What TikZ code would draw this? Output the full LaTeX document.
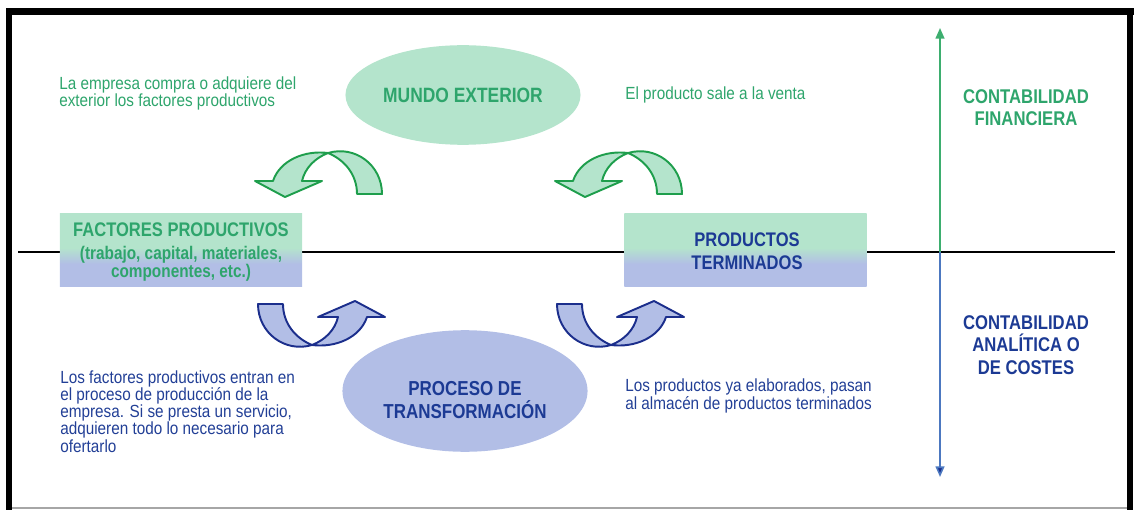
\documentclass[tikz,border=0pt]{standalone}
\usepackage{fontspec}
\setmainfont{Liberation Sans}
\newfontfamily\condb[FakeStretch=0.84]{Liberation Sans}
\newfontfamily\condr[FakeStretch=0.87]{Liberation Sans}
\usetikzlibrary{shapes.geometric,arrows.meta}
\definecolor{boxgreen}{HTML}{B4E4CC}
\definecolor{boxblue}{HTML}{B2BEE6}
\definecolor{greentext}{HTML}{2EA56C}
\definecolor{bluetitle}{HTML}{1C3A94}
\definecolor{bluesmall}{HTML}{223F96}
\definecolor{arrowgreen}{HTML}{1E9E4C}
\definecolor{arrowblue}{HTML}{1B2E8C}
\definecolor{axisgreen}{HTML}{3DAE6F}
\definecolor{axisblue}{HTML}{4C78C0}
\pgfdeclareverticalshading{boxshade}{100bp}{color(0bp)=(boxblue); color(40.5bp)=(boxblue); color(51.5bp)=(boxgreen); color(100bp)=(boxgreen)}
\tikzset{
  uturn/.pic={
    \filldraw[pic actions] (0,0) .. controls (27,-8) and (54,12) .. (54,41) -- (29,41) .. controls (29,22) and (17,7) .. cycle;
    \filldraw[pic actions] (0,0) .. controls (-23,-3) and (-48,7) .. (-55,28) -- (-73,28) -- (-43,44) -- (-6,28) -- (-26,28) .. controls (-23,15) and (-13,5) .. cycle;
  },
  title/.style={font=\condb\bfseries\fontsize{11.2}{12.5}\selectfont, inner sep=0, align=center},
  small/.style={font=\condr\fontsize{10}{9.8}\selectfont, inner sep=0, align=left},
  pbox/.style={shading=boxshade, minimum width=137.8pt, minimum height=41.95pt, inner sep=0},
  greenarrow/.style={fill=boxgreen, draw=arrowgreen, line width=1.1pt, line join=round},
  bluearrow/.style={fill=boxblue, draw=arrowblue, line width=1.1pt, line join=round},
}
\begin{document}
\begin{tikzpicture}[x=0.02cm,y=-0.02cm]
\useasboundingbox (0,0) rectangle (1136,510);
% frame
\fill[black] (6,8) rectangle (1134,15);
\fill[black] (6,8) rectangle (12,510);
\fill[black] (1127,8) rectangle (1133,510);
\draw[gray!70, line width=0.6pt] (12,508) -- (1127,508);
% horizontal divider
\coordinate (hl) at (18,252);
\coordinate (hr) at (1115,252);
\draw[black, line width=1.1pt] (hl) -- (hr);
% vertical axis
\coordinate (axmid) at (940,252);
\coordinate (axtop) at (940,28);
\coordinate (axbot) at (940,477);
\draw[axisgreen, line width=0.9pt, -{Triangle[width=5pt,length=6pt]}] (axmid) -- (axtop);
\draw[axisblue, line width=0.9pt, -{Triangle[width=5pt,length=6pt,fill=arrowblue]}] (axmid) -- (axbot);
% ellipses
\node[ellipse, fill=boxgreen, minimum width=133.8pt, minimum height=56.7pt, inner sep=0] (mundo) at (463,95) {};
\node[title, text=greentext, font=\condb\bfseries\fontsize{11.8}{13}\selectfont] (mundot) at (463,95) {MUNDO EXTERIOR};
\node[ellipse, fill=boxblue, minimum width=139.5pt, minimum height=69.2pt, inner sep=0] (proceso) at (465,391) {};
\node[title, text=bluetitle, font=\condb\bfseries\fontsize{11.5}{13}\selectfont] (procesot) at (465,400) {PROCESO DE\\TRANSFORMACIÓN};
% boxes
\node[pbox] (fact) at (181,250) {};
\node[title, text=greentext] (fact1) at (181,230) {FACTORES PRODUCTIVOS};
\node[title, text=greentext, font=\condb\bfseries\fontsize{10.4}{10.5}\selectfont] (fact2) at (181,264) {(trabajo, capital, materiales,\\componentes, etc.)};
\node[pbox] (prod) at (745.5,250) {};
\node[title, text=bluetitle, font=\condb\bfseries\fontsize{11.2}{13}\selectfont] (prodt) at (747,251) {PRODUCTOS\\TERMINADOS};
% curved arrows
\pic[greenarrow] at (328,153) {uturn};
\pic[greenarrow] at (628,153) {uturn};
\pic[bluearrow, rotate=180] at (312,345) {uturn};
\pic[bluearrow, rotate=180] at (611,345) {uturn};
% side texts (anchor base = baseline of last line)
\node[small, text=greentext, anchor=base west] (t1) at (59,107) {La empresa compra o adquiere del\\exterior los factores productivos};
\node[small, text=greentext, anchor=base west] (t2) at (625,100) {El producto sale a la venta};
\node[small, text=bluesmall, anchor=base west] (t3) at (60,452) {Los factores productivos entran en\\el proceso de producción de la\\empresa. Si se presta un servicio,\\adquieren todo lo necesario para\\ofertarlo};
\node[small, text=bluesmall, anchor=base west] (t4) at (625,409) {Los productos ya elaborados, pasan\\al almacén de productos terminados};
% right labels
\node[title, text=greentext, font=\condb\bfseries\fontsize{11.3}{12.5}\selectfont] (cf) at (1026,108) {CONTABILIDAD\\FINANCIERA};
\node[title, text=bluetitle, font=\condb\bfseries\fontsize{11.3}{12.8}\selectfont] (ca) at (1026,345) {CONTABILIDAD\\ANALÍTICA O\\DE COSTES};
\end{tikzpicture}
\end{document}
